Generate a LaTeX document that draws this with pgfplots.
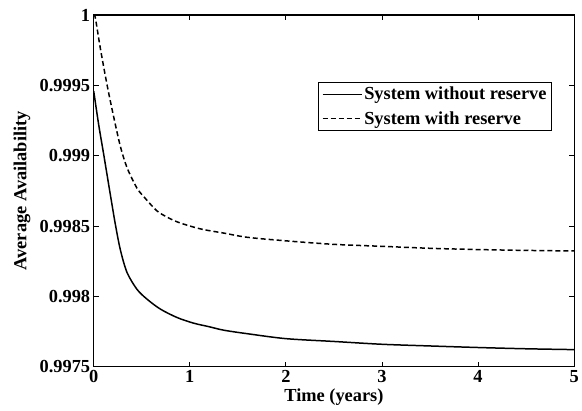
\documentclass[border=0pt]{standalone}
\usepackage{fontspec}
\setmainfont{Liberation Serif}
\usepackage{pgfplots}
\pgfplotsset{compat=1.18}

\pgfplotstableread{
t      a
0      0.99946
0.052  0.99922
0.104  0.99901
0.174  0.99872
0.226  0.99851
0.278  0.99833
0.347  0.99817
0.451  0.99805
0.556  0.99798
0.694  0.99791
0.868  0.99785
1.04   0.99781
1.2    0.997785
1.354  0.99776
1.6    0.997735
2.0    0.99770
2.5    0.99768
3.0    0.99766
3.5    0.997648
4.0    0.997637
4.5    0.997628
5      0.997622
}\noreserve

\pgfplotstableread{
t      a
0      1.0
0.017  0.99998
0.07   0.99976
0.14   0.99950
0.21   0.99927
0.28   0.99906
0.35   0.99891
0.45   0.99877
0.52   0.99871
0.625  0.99863
0.694  0.99859
0.868  0.99853
1.11   0.99848
1.354  0.99845
1.6    0.99842
2.0    0.998395
2.5    0.99837
3.0    0.998356
3.5    0.998342
4.0    0.998333
4.5    0.998327
5      0.998323
}\withreserve

\begin{document}
\begin{tikzpicture}
\begin{axis}[
  at={(0,0)}, anchor=south west,
  scale only axis,
  width=482bp, height=353bp,
  xmin=0, xmax=5,
  ymin=0.9975, ymax=1,
  xtick={0,1,2,3,4,5},
  ytick={0.9975,0.998,0.9985,0.999,0.9995,1},
  yticklabels={0.9975,0.998,0.9985,0.999,0.9995,1},
  tick align=inside,
  major tick length=5bp,
  axis line style={line width=1.2bp},
  every tick/.style={black, line width=0.8bp},
  font=\fontsize{18.5}{21}\selectfont\bfseries,
  /pgf/number format/assume math mode=true,
  tick label style={font=\fontsize{18.5}{21}\selectfont\bfseries},
  xlabel={Time (years)},
  ylabel={Average Availability},
  x label style={at={(axis description cs:0.5,-0.085)}, anchor=center},
  y label style={at={(axis description cs:-0.149,0.5)}, anchor=center},
  legend style={at={(axis description cs:0.954,0.81)}, anchor=north east,
    draw=black, line width=0.9bp, inner xsep=3bp, inner ysep=3bp,
    font=\fontsize{18.5}{21}\selectfont\bfseries,
    row sep=6bp},
  legend cell align=left,
  legend image code/.code={\draw[#1] (0bp,0bp) -- (39bp,0bp);},
]
\addplot[black, line width=1.5bp, smooth] table[x=t, y=a] {\noreserve};
\addlegendentry{System without reserve}
\addplot[black, line width=1.5bp, dash pattern=on 5bp off 3bp, smooth] table[x=t, y=a] {\withreserve};
\addlegendentry{System with reserve}
\end{axis}
\path[use as bounding box] (-94bp,-44bp) rectangle (488bp,368bp);
\end{tikzpicture}
\end{document}
